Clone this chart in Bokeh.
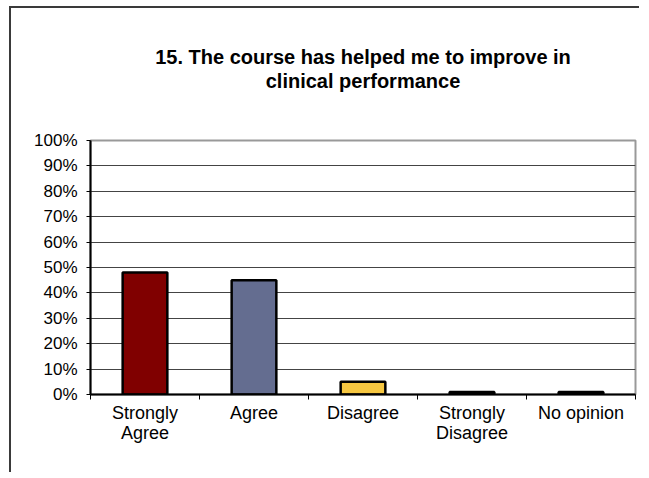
from bokeh.plotting import figure
from bokeh.models import FixedTicker, NumeralTickFormatter, Range1d, Title, ColumnDataSource
from bokeh.embed import file_html
from bokeh.resources import INLINE

title_lines = ["15. The course has helped me to improve in", "clinical performance"]
categories = ["Strongly\nAgree", "Agree", "Disagree", "Strongly\nDisagree", "No opinion"]
values = [0.48, 0.45, 0.05, 0.01, 0.01]
colors = ["#800000", "#646D90", "#F6C741", "#000000", "#000000"]
y_ticks = [0.0, 0.1, 0.2, 0.3, 0.4, 0.5, 0.6, 0.7, 0.8, 0.9, 1.0]

xs = [i + 0.5 for i in range(len(categories))]
src = ColumnDataSource(dict(x=xs, top=values, color=colors))

p = figure(width=630, height=466, output_backend="svg", toolbar_location=None,
           x_range=Range1d(0, len(categories)), y_range=Range1d(0, 1),
           min_border_left=79, min_border_right=6, min_border_top=132, min_border_bottom=80)
p.styles = {"border-top": "2px solid #3a3a3a", "border-left": "2px solid #3a3a3a",
            "margin-left": "9px", "margin-top": "6px"}

p.vbar(x="x", top="top", bottom=0, width=0.41, fill_color="color",
       line_color="black", line_width=2.5, source=src)

font = "Liberation Sans"
title_style = dict(align="center", text_font=font, text_font_size="20px",
                   text_font_style="bold", text_color="black")
p.title.text = title_lines[0]
p.title.align = "center"
p.title.text_font = font
p.title.text_font_size = "20px"
p.title.text_font_style = "bold"
p.title.text_color = "black"
p.title.standoff = 0
spacer = Title(text=" ", standoff=25, **title_style)
t2 = Title(text=title_lines[1], standoff=0, **title_style)
p.add_layout(spacer, "above")
p.add_layout(t2, "above")

p.outline_line_color = "#999999"
p.outline_line_width = 2
p.background_fill_color = "white"
p.border_fill_color = "white"

p.xgrid.visible = False
p.ygrid.ticker = FixedTicker(ticks=y_ticks)
p.ygrid.grid_line_color = "#444444"
p.ygrid.grid_line_width = 1

p.yaxis.ticker = FixedTicker(ticks=y_ticks)
p.yaxis.formatter = NumeralTickFormatter(format="0%")
p.yaxis.axis_line_color = "black"
p.yaxis.axis_line_width = 2
p.yaxis.major_tick_out = 4
p.yaxis.major_tick_in = 0
p.yaxis.minor_tick_line_color = None
p.yaxis.major_label_standoff = 9
p.yaxis.major_label_text_font = font
p.yaxis.major_label_text_font_size = "17px"
p.yaxis.major_label_text_color = "black"

p.xaxis.ticker = FixedTicker(ticks=xs, minor_ticks=list(range(len(categories) + 1)))
p.xaxis.major_label_overrides = {x: c for x, c in zip(xs, categories)}
p.xaxis.axis_line_color = "black"
p.xaxis.axis_line_width = 2
p.xaxis.major_tick_line_color = None
p.xaxis.major_tick_out = 0
p.xaxis.major_tick_in = 0
p.xaxis.minor_tick_out = 5
p.xaxis.minor_tick_in = 0
p.xaxis.minor_tick_line_color = "black"
p.xaxis.major_label_standoff = 3
p.xaxis.major_label_text_font = font
p.xaxis.major_label_text_font_size = "18px"
p.xaxis.major_label_text_line_height = 1.0
p.xaxis.major_label_text_color = "black"

open("out.html", "w").write(file_html(p, INLINE))
